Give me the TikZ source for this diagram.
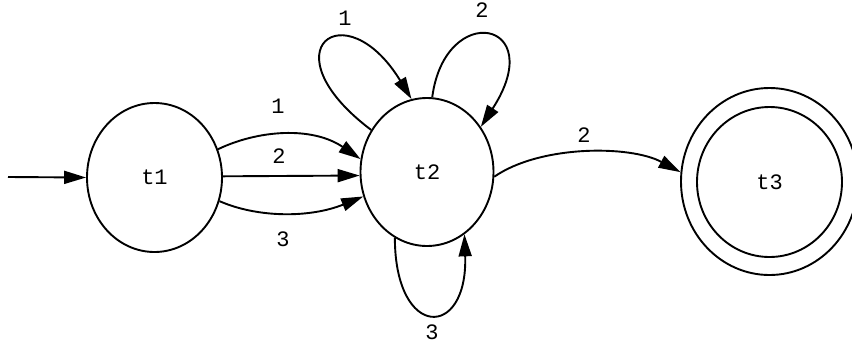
\documentclass[tikz,border=0pt]{standalone}
\usepackage{fontspec}
\setmonofont{Liberation Mono}
\usetikzlibrary{arrows.meta,shapes.geometric}
\tikzset{
  state/.style={ellipse, draw, inner sep=0pt, font=\ttfamily\fontsize{22}{26}\selectfont},
  lbl/.style={font=\ttfamily\fontsize{22}{26}\selectfont, inner sep=0pt}
}
\begin{document}
\begin{tikzpicture}[x=1pt, y=-1pt, line width=1.9pt, >={Triangle[length=22pt,width=13pt]}]
        \useasboundingbox (0,0) rectangle (852,349);

        % States
        \node[state, minimum width=135pt, minimum height=149pt] (t1) at (154.5,177.5) {t1};
        \node[state, minimum width=133pt, minimum height=148pt] (t2) at (427,172) {t2};
        \node[state, minimum width=145pt, minimum height=150pt] (t3in) at (769.5,182) {t3};
        \node[state, minimum width=177pt, minimum height=187pt] (t3) at (769.5,181.5) {};
        \coordinate (start) at (8,177);

        % Initial arrow
        \draw[->] (start) -- (t1.west);

        % Edges t1 -> t2
        \draw[->] (t1.24) .. controls (258,130) and (312,126) .. (t2.169);
        \draw[->] (t1.1) -- (t2.183);
        \draw[->] (t1.340) .. controls (258,218) and (310,218) .. (t2.201);

        % Loops on t2
        \draw[->] (t2.143) .. controls (265,50) and (345,-10) .. (t2.102);
        \draw[->] (t2.86) .. controls (445,0) and (550,20) .. (t2.40);
        \draw[->] (t2.244) .. controls (395,340) and (468,340) .. (t2.301);

        % Edge t2 -> t3
        \draw[->] (t2.356) .. controls (540,145) and (630,145) .. (t3.174);

        % Labels
        \node[lbl] (l12a) at (278,106) {1};
        \node[lbl] (l12b) at (279,156) {2};
        \node[lbl] (l12c) at (283,239) {3};
        \node[lbl] (l22a) at (345,18) {1};
        \node[lbl] (l22b) at (482,10) {2};
        \node[lbl] (l22c) at (432,332) {3};
        \node[lbl] (l23) at (584,135) {2};
    \end{tikzpicture}
\end{document}
